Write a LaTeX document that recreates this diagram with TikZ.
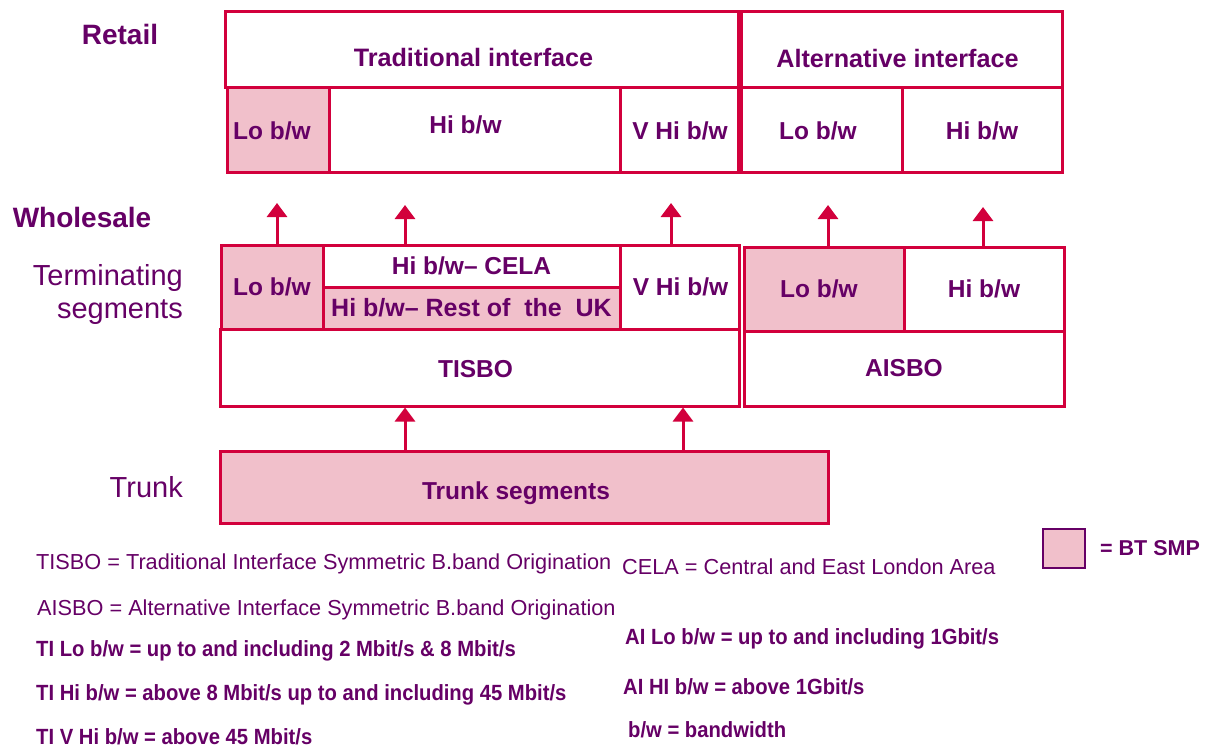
\documentclass[tikz,border=0pt]{standalone}
\usepackage{fontspec}
\setmainfont{Liberation Sans}
\newfontfamily\narrowsans[FakeStretch=0.92]{Liberation Sans}
\usetikzlibrary{arrows.meta}

\definecolor{edge}{RGB}{210,0,60}
\definecolor{smp}{RGB}{241,192,203}
\definecolor{ink}{RGB}{102,0,102}

\newcommand\segfont{\fontsize{24.5}{28}\selectfont\bfseries}
\newcommand\headfont{\fontsize{25.2}{28}\selectfont\bfseries}
\newcommand\tierfont{\fontsize{29}{33}\selectfont}
\newcommand\notefont{\fontsize{21.7}{26}\selectfont}
\newcommand\noteboldfont{\narrowsans\fontsize{22}{26}\selectfont\bfseries}

\tikzset{
  seg/.style={draw=edge, line width=3pt, fill=white, inner sep=0pt,
              text=ink, font=\segfont},
  smpseg/.style={seg, fill=smp},
  lbl/.style={text=ink, inner sep=0pt, font=\segfont},
  up/.style={draw=edge, line width=3pt, -{Triangle[width=20pt,length=14pt]}},
  tier/.style={text=ink, inner sep=0pt, font=\tierfont},
  note/.style={text=ink, inner sep=0pt, anchor=base west, font=\notefont},
  notebold/.style={note, font=\noteboldfont},
}

\begin{document}
\begin{tikzpicture}[x=1pt, y=-1pt]
\useasboundingbox[fill=white] (0,0) rectangle (1211,749);

% tier captions on the left
\node[tier, font=\fontsize{28}{33}\selectfont\bfseries] (retail) at (120,34) {Retail};
\node[tier, font=\fontsize{28}{33}\selectfont\bfseries] (wholesale) at (82,217) {Wholesale};
\node[tier, anchor=east, align=right] (terminating) at (183,295) {Terminating\\segments};
\node[tier, anchor=east] (trunklbl) at (183,487) {Trunk};

% retail products
\node[seg, minimum width=513pt, minimum height=76pt,
      label={[lbl, font=\headfont, xshift=-8pt, yshift=-7pt]center:Traditional interface}] (trad) at (481.5,50) {};
\node[seg, minimum width=321pt, minimum height=76pt,
      label={[lbl, font=\headfont, xshift=-4pt, yshift=-8pt]center:Alternative interface}] (alt) at (901.5,50) {};
\node[smpseg, minimum width=102pt, minimum height=85pt] (rlo) at (278,130.5) {\hspace*{-12pt}Lo b/w};
\node[seg, minimum width=291pt, minimum height=85pt,
      label={[lbl, xshift=-9pt, yshift=6pt]center:Hi b/w}] (rhi) at (474.5,130.5) {};
\node[seg, minimum width=118pt, minimum height=85pt] (rvhi) at (679,130.5) {\hspace*{2pt}V Hi b/w};
\node[seg, minimum width=161pt, minimum height=85pt] (alo) at (821.5,130.5) {\hspace*{-7pt}Lo b/w};
\node[seg, minimum width=160pt, minimum height=85pt] (ahi) at (982,130.5) {Hi b/w};

% wholesale terminating segments, traditional interface
\node[smpseg, minimum width=102pt, minimum height=84pt] (wlo) at (272,287) {Lo b/w};
\node[seg, minimum width=297pt, minimum height=42pt] (cela) at (471.5,266) {Hi b/w-- CELA};
\node[smpseg, minimum width=297pt, minimum height=42pt] (ruk) at (471.5,308)
      {\fontsize{25}{28}\selectfont Hi b/w-- Rest of\ \ the\ \ UK};
\node[seg, minimum width=119pt, minimum height=84pt] (wvhi) at (679.5,287) {\hspace*{2pt}V Hi b/w};
\node[seg, minimum width=519pt, minimum height=77pt,
      label={[lbl, xshift=-4pt, yshift=-2pt]center:TISBO}] (tisbo) at (479.5,367.5) {};

% wholesale terminating segments, alternative interface
\node[smpseg, minimum width=160pt, minimum height=84pt] (wlo2) at (824,289) {\hspace*{-10pt}Lo b/w};
\node[seg, minimum width=160pt, minimum height=84pt] (whi2) at (984,289) {Hi b/w};
\node[seg, minimum width=320pt, minimum height=75pt] (aisbo) at (904,368.5) {AISBO};

% trunk
\node[smpseg, minimum width=608pt, minimum height=72pt,
      label={[lbl, xshift=-8pt, yshift=-6pt]center:Trunk segments}] (trunk) at (524,487) {};

% wholesale inputs to retail products
\coordinate (tip1) at (277,203);
\coordinate (tip2) at (405,205);
\coordinate (tip3) at (671,203);
\coordinate (tip4) at (828,205);
\coordinate (tip5) at (983,207);
\draw[up] (wlo.north -| tip1) -- (tip1);
\draw[up] (cela.north -| tip2) -- (tip2);
\draw[up] (wvhi.north -| tip3) -- (tip3);
\draw[up] (wlo2.north -| tip4) -- (tip4);
\draw[up] (whi2.north -| tip5) -- (tip5);

% trunk inputs to TISBO
\coordinate (feed1) at (405,0);
\coordinate (feed2) at (683,0);
\draw[up] (trunk.north -| feed1) -- (tisbo.south -| feed1);
\draw[up] (trunk.north -| feed2) -- (tisbo.south -| feed2);

% key
\node[draw=ink, fill=smp, line width=2.5pt, minimum width=42pt, minimum height=39pt,
      inner sep=0pt] (key) at (1064,548.5) {};
\node[text=ink, inner sep=0pt, anchor=west, font=\fontsize{21.5}{24}\selectfont\bfseries]
      (keytext) at (1100,548) {= BT SMP};

% glossary
\node[note] (n1) at (36,569) {TISBO = Traditional Interface Symmetric B.band Origination};
\node[note] (n2) at (37,615) {AISBO = Alternative Interface Symmetric B.band Origination};
\node[notebold] (n3) at (36,656) {TI Lo b/w = up to and including 2 Mbit/s \& 8 Mbit/s};
\node[notebold] (n4) at (36,700) {TI Hi b/w = above 8 Mbit/s up to and including 45 Mbit/s};
\node[notebold] (n5) at (36,744) {TI V Hi b/w = above 45 Mbit/s};
\node[note] (n6) at (622,574) {CELA = Central and East London Area};
\node[notebold] (n7) at (625,644) {AI Lo b/w = up to and including 1Gbit/s};
\node[notebold] (n8) at (623,694) {AI HI b/w = above 1Gbit/s};
\node[notebold] (n9) at (628,737) {b/w = bandwidth};
\end{tikzpicture}
\end{document}
